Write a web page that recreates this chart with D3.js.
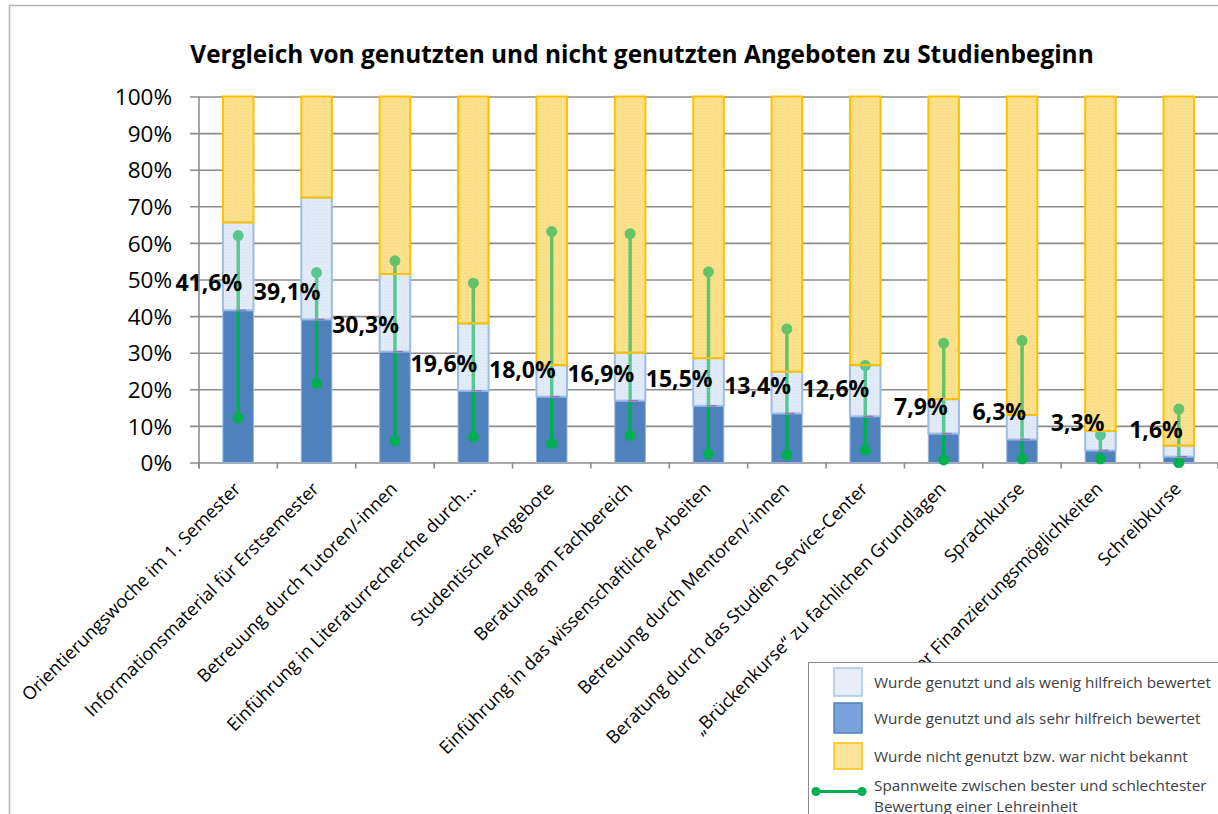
<!doctype html>
<html>
  <head>
    <meta charset="utf-8">
    <title>Angebote zu Studienbeginn</title>
    <script src="https://d3js.org/d3.v7.min.js"></script>
    <style>
        body {
            margin: 0;
            padding: 0;
            background: #fff;
        }
        svg text {
            font-family: "Open Sans", "Liberation Sans", Arial, sans-serif;
        }
    </style>
  </head>
  <body>
        <div id="chart"></div>
        <script>

            /*
            Data (percent)
            */
            var categories = [
                "Orientierungswoche im 1. Semester",
                "Informationsmaterial für Erstsemester",
                "Betreuung durch Tutoren/-innen",
                "Einführung in Literaturrecherche durch…",
                "Studentische Angebote",
                "Beratung am Fachbereich",
                "Einführung in das wissenschaftliche Arbeiten",
                "Betreuung durch Mentoren/-innen",
                "Beratung durch das Studien Service-Center",
                "„Brückenkurse“ zu fachlichen Grundlagen",
                "Sprachkurse",
                "Informationen über Finanzierungsmöglichkeiten",
                "Schreibkurse"
            ];
            var sehrHilfreich  = [41.6, 39.1, 30.3, 19.6, 18.0, 16.9, 15.5, 13.4, 12.6, 7.9, 6.3, 3.3, 1.6];
            var wenigHilfreich = [24.0, 33.3, 21.2, 18.4, 8.6, 13.1, 13.0, 11.4, 14.0, 9.4, 6.7, 5.3, 3.0];
            var nichtGenutzt   = [34.4, 27.6, 48.5, 62.0, 73.4, 70.0, 71.5, 75.2, 73.4, 82.7, 87.0, 91.4, 95.4];
            var spanneMin = [12.1, 21.6, 5.9, 6.9, 5.2, 7.4, 2.3, 2.1, 3.4, 0.7, 1.0, 1.0, 0.0];
            var spanneMax = [62.0, 51.9, 55.1, 49.0, 63.1, 62.5, 52.1, 36.5, 26.5, 32.6, 33.3, 7.5, 14.6];
            var yTicks = [0, 10, 20, 30, 40, 50, 60, 70, 80, 90, 100];

            var legendItems = [
                "Wurde genutzt und als wenig hilfreich bewertet",
                "Wurde genutzt und als sehr hilfreich bewertet",
                "Wurde nicht genutzt bzw. war nicht bekannt"
            ];
            var legendLine = ["Spannweite zwischen bester und schlechtester", "Bewertung einer Lehreinheit"];

            var W = 1218, H = 814;
            var plot = {left: 199, right: 1218, top: 96.5, bottom: 462.5};

            var fmt = (v) => v.toFixed(1).replace(".", ",") + "%";

            var svg = d3.select("#chart")
                .append("svg")
                .attr("width", W)
                .attr("height", H);

            // fine dotted fills like the office pattern
            var defs = svg.append("defs");
            function dotPattern(id, base, dot) {
                var p = defs.append("pattern")
                    .attr("id", id)
                    .attr("width", 3).attr("height", 3)
                    .attr("patternUnits", "userSpaceOnUse");
                p.append("rect").attr("width", 3).attr("height", 3).attr("fill", base);
                p.append("rect").attr("width", 1).attr("height", 1).attr("fill", dot);
                p.append("rect").attr("x", 1.5).attr("y", 1.5).attr("width", 1).attr("height", 1).attr("fill", dot);
            }
            dotPattern("patYellow", "#fde493", "#f6d26e");
            dotPattern("patBlue", "#e6eef9", "#cddbef");

            // chart border
            svg.append("rect")
                .attr("x", 9.5).attr("y", 5.5)
                .attr("width", 1300).attr("height", 900)
                .attr("fill", "none")
                .attr("stroke", "#b4b4b4")
                .attr("stroke-width", 1.5);

            svg.append("text")
                .attr("x", 642)
                .attr("y", 63)
                .attr("text-anchor", "middle")
                .style("font-size", "24.4px")
                .style("font-weight", "bold")
                .text("Vergleich von genutzten und nicht genutzten Angeboten zu Studienbeginn");

            var x = d3.scaleBand()
                .domain(categories)
                .range([plot.left, plot.right])
                .paddingInner(0.61)
                .paddingOuter(0.305);

            var y = d3.scaleLinear()
                .domain([0, 100])
                .range([plot.bottom, plot.top]);

            // gridlines + y axis
            var yAxis = svg.append("g")
                .attr("transform", "translate(" + plot.left + ",0)")
                .call(d3.axisLeft(y)
                    .tickValues(yTicks)
                    .tickSize(9)
                    .tickPadding(18)
                    .tickFormat((d) => d + "%"));
            yAxis.select(".domain").remove();
            yAxis.selectAll(".tick line")
                .attr("x2", plot.right - plot.left)
                .attr("x1", -9)
                .attr("stroke", "#8c8c8c")
                .attr("stroke-width", 1.6);
            yAxis.selectAll(".tick text")
                .style("font-size", "22.5px")
                .attr("fill", "#000")
                .attr("dy", "0.36em");

            svg.append("line")
                .attr("x1", plot.left).attr("x2", plot.left)
                .attr("y1", plot.top).attr("y2", plot.bottom + 6)
                .attr("stroke", "#8c8c8c")
                .attr("stroke-width", 1.6);

            // category separators on the x axis
            var sep = d3.scaleLinear().domain([0, categories.length]).range([plot.left, plot.right]);
            svg.append("g")
                .selectAll("line")
                .data(d3.range(categories.length + 1))
                .enter()
                .append("line")
                .attr("x1", (d) => sep(d)).attr("x2", (d) => sep(d))
                .attr("y1", plot.bottom).attr("y2", plot.bottom + 6)
                .attr("stroke", "#8c8c8c")
                .attr("stroke-width", 1.6);

            // stacked data
            var rows = categories.map((c, i) => ({
                cat: c,
                sehr: sehrHilfreich[i],
                wenig: wenigHilfreich[i],
                nicht: nichtGenutzt[i],
                lo: spanneMin[i],
                hi: spanneMax[i]
            }));
            var stack = d3.stack().keys(["sehr", "wenig", "nicht"])(rows);
            var fills = {sehr: "#4f81bd", wenig: "url(#patBlue)", nicht: "url(#patYellow)"};
            var strokes = {sehr: "#95b3dc", wenig: "#9ebde6", nicht: "#ffc000"};

            function drawLayer(g, layer, opacity) {
                g.selectAll("rect")
                    .data(layer)
                    .enter()
                    .append("rect")
                    .attr("x", (d) => x(d.data.cat))
                    .attr("width", x.bandwidth())
                    .attr("y", (d) => y(d[1]))
                    .attr("height", (d) => y(d[0]) - y(d[1]))
                    .attr("fill", fills[layer.key])
                    .attr("fill-opacity", opacity)
                    .attr("stroke", opacity < 1 ? strokes[layer.key] : "none")
                    .attr("stroke-width", layer.key == "sehr" ? 1 : 2);
            }

            // under layer
            var under = svg.append("g");
            stack.forEach((layer) => drawLayer(under.append("g"), layer, 1));
            under.selectAll("rect").filter(function () { return d3.select(this).attr("fill") == "#4f81bd"; })
                .attr("stroke", "#95b3dc").attr("stroke-width", 1);

            // range lines
            var cx = (d) => x(d.cat) + x.bandwidth() / 2;
            var rng = svg.append("g");
            rng.selectAll("line")
                .data(rows)
                .enter()
                .append("line")
                .attr("x1", cx).attr("x2", cx)
                .attr("y1", (d) => y(d.lo))
                .attr("y2", (d) => y(d.hi))
                .attr("stroke", "#00b050")
                .attr("stroke-width", 3.5);
            rng.selectAll("circle.hi")
                .data(rows)
                .enter()
                .append("circle")
                .attr("class", "hi")
                .attr("cx", cx)
                .attr("cy", (d) => y(d.hi))
                .attr("r", 5.5)
                .attr("fill", "#00b050");
            rng.selectAll("circle.lo")
                .data(rows)
                .enter()
                .append("circle")
                .attr("class", "lo")
                .attr("cx", cx)
                .attr("cy", (d) => y(d.lo))
                .attr("r", 5.5)
                .attr("fill", "#00b050");

            // translucent upper segments over the range lines
            var over = svg.append("g");
            stack.slice(1).forEach((layer) => drawLayer(over.append("g"), layer, 0.4));

            // small marker at the top of the dark segment
            svg.append("g")
                .selectAll("line")
                .data(rows)
                .enter()
                .append("line")
                .attr("x1", (d) => cx(d) - 2).attr("x2", (d) => cx(d) + 8)
                .attr("y1", (d) => y(d.sehr)).attr("y2", (d) => y(d.sehr))
                .attr("stroke", "#9a78b8")
                .attr("stroke-width", 1.5);

            // value labels
            svg.append("g")
                .selectAll("text")
                .data(rows)
                .enter()
                .append("text")
                .attr("x", (d) => cx(d) + 4)
                .attr("y", (d) => y(d.sehr) - 19)
                .attr("text-anchor", "end")
                .style("font-size", "23px")
                .style("font-weight", "bold")
                .attr("fill", "#000")
                .text((d) => fmt(d.sehr));

            // category labels
            svg.append("g")
                .selectAll("text")
                .data(categories)
                .enter()
                .append("text")
                .attr("transform", (d) => "translate(" + (x(d) + x.bandwidth() / 2 - 1) + "," + (plot.bottom + 23) + ") rotate(-45)")
                .attr("text-anchor", "end")
                .attr("dy", "0.35em")
                .style("font-size", "18px")
                .attr("fill", "#000")
                .text((d) => d);

            /*
            Legend
            */
            var lg = svg.append("g");
            lg.append("rect")
                .attr("x", 808.5).attr("y", 662.5)
                .attr("width", 500).attr("height", 300)
                .attr("fill", "#fff")
                .attr("stroke", "#8a8a8a")
                .attr("stroke-width", 1);

            var swatch = [
                {y: 668, h: 28, fill: "#e6eef9", stroke: "#a9c5ea"},
                {y: 703, h: 30, fill: "#7ba4dc", stroke: "#4f81bd"},
                {y: 743, h: 26, fill: "#fee49b", stroke: "#ffc000"}
            ];
            lg.selectAll("rect.sw")
                .data(swatch)
                .enter()
                .append("rect")
                .attr("class", "sw")
                .attr("x", 834).attr("width", 28)
                .attr("y", (d) => d.y).attr("height", (d) => d.h)
                .attr("fill", (d) => d.fill)
                .attr("stroke", (d) => d.stroke)
                .attr("stroke-width", 1.5);
            lg.selectAll("text.it")
                .data(legendItems)
                .enter()
                .append("text")
                .attr("class", "it")
                .attr("x", 874)
                .attr("y", (d, i) => swatch[i].y + swatch[i].h / 2 + 5.5)
                .style("font-size", "15.3px")
                .attr("fill", "#404040")
                .text((d) => d);

            lg.append("line")
                .attr("x1", 816).attr("x2", 862)
                .attr("y1", 791.5).attr("y2", 791.5)
                .attr("stroke", "#00b050")
                .attr("stroke-width", 3);
            lg.selectAll("circle")
                .data([816, 862])
                .enter()
                .append("circle")
                .attr("cx", (d) => d).attr("cy", 791.5)
                .attr("r", 4.5)
                .attr("fill", "#00b050");
            lg.selectAll("text.ln")
                .data(legendLine)
                .enter()
                .append("text")
                .attr("class", "ln")
                .attr("x", 874)
                .attr("y", (d, i) => 791 + i * 21)
                .style("font-size", "15.3px")
                .attr("fill", "#404040")
                .text((d) => d);

        </script>
    </body>
</html>
